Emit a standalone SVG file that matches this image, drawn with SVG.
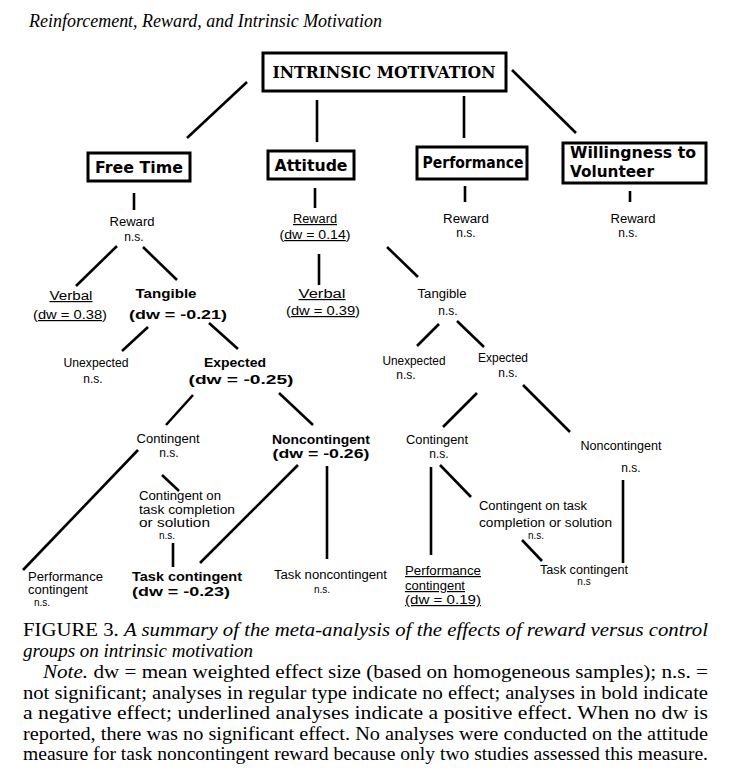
<svg xmlns="http://www.w3.org/2000/svg" width="730" height="781" viewBox="0 0 730 781">
<style>
  .box { fill: #fff; stroke: #000; stroke-width: 3; }
  .bt { font-family: "DejaVu Sans", sans-serif; font-weight: bold; font-size: 15px; fill: #000; }
  .bts { font-family: "DejaVu Serif", serif; font-weight: bold; font-size: 17px; fill: #000; }
  .l { font-family: "Liberation Sans", Arial, sans-serif; font-size: 12px; fill: #000; }
  .b { font-family: "Liberation Sans", Arial, sans-serif; font-size: 13px; font-weight: bold; fill: #000; }
  .s { font-family: "Liberation Sans", Arial, sans-serif; font-size: 10px; fill: #000; }
  .m { text-anchor: middle; }
  .u { text-decoration: underline; }
  .cap { font-family: "Liberation Serif", "Times New Roman", serif; font-size: 19px; fill: #000; }
  .it { font-style: italic; }
  #connectors line { stroke: #000; stroke-width: 2.6; stroke-linecap: butt; }
</style>
<rect width="730" height="781" fill="#fff"/>

<text class="cap it" x="29" y="27" font-size="16.5" textLength="353" lengthAdjust="spacingAndGlyphs">Reinforcement, Reward, and Intrinsic Motivation</text>

<g id="connectors">
  <line x1="247" y1="82" x2="187" y2="138"/>
  <line x1="317" y1="100" x2="317" y2="142"/>
  <line x1="464" y1="96" x2="464" y2="138"/>
  <line x1="512" y1="70" x2="576" y2="133"/>
  <line x1="134" y1="193" x2="134" y2="210"/>
  <line x1="315" y1="188" x2="315" y2="208"/>
  <line x1="465" y1="186" x2="465" y2="202"/>
  <line x1="630" y1="191" x2="630" y2="202"/>
  <line x1="117" y1="246" x2="76" y2="286"/>
  <line x1="143" y1="247" x2="177" y2="280"/>
  <line x1="319" y1="254" x2="319" y2="285"/>
  <line x1="387" y1="247" x2="418" y2="277"/>
  <line x1="148" y1="327" x2="122" y2="351"/>
  <line x1="209" y1="323" x2="238" y2="349"/>
  <line x1="439" y1="324" x2="417" y2="346"/>
  <line x1="457" y1="321" x2="484" y2="347"/>
  <line x1="193" y1="395" x2="166" y2="425"/>
  <line x1="279" y1="393" x2="313" y2="425"/>
  <line x1="477" y1="393" x2="443" y2="427"/>
  <line x1="523" y1="385" x2="570" y2="432"/>
  <line x1="138" y1="450" x2="23" y2="570"/>
  <line x1="162" y1="475" x2="179" y2="491"/>
  <line x1="173" y1="543" x2="173" y2="567"/>
  <line x1="298" y1="465" x2="200" y2="563"/>
  <line x1="327" y1="466" x2="327" y2="559"/>
  <line x1="431" y1="467" x2="431" y2="555"/>
  <line x1="440" y1="465" x2="471" y2="497"/>
  <line x1="522" y1="540" x2="542" y2="561"/>
  <line x1="623" y1="480" x2="623" y2="563"/>
</g>

<g id="intrinsic-motivation">
  <rect class="box" x="263" y="53" width="243" height="38"/>
  <text class="bts m" x="384" y="78" textLength="223" lengthAdjust="spacingAndGlyphs">INTRINSIC MOTIVATION</text>
</g>

<g id="free-time">
  <rect class="box" x="88" y="153" width="102" height="28"/>
  <text class="bt m" x="139" y="173" textLength="88" lengthAdjust="spacingAndGlyphs">Free Time</text>
</g>
<g id="attitude">
  <rect class="box" x="268" y="151" width="86" height="28"/>
  <text class="bt m" x="311" y="171" textLength="73" lengthAdjust="spacingAndGlyphs">Attitude</text>
</g>
<g id="performance">
  <rect class="box" x="417" y="147" width="110" height="32"/>
  <text class="bt m" x="473" y="168" textLength="101" lengthAdjust="spacingAndGlyphs">Performance</text>
</g>
<g id="willingness">
  <rect class="box" x="563" y="143" width="143" height="40"/>
  <text class="bt" x="570" y="158" textLength="126" lengthAdjust="spacingAndGlyphs">Willingness to</text>
  <text class="bt" x="570" y="177" textLength="84" lengthAdjust="spacingAndGlyphs">Volunteer</text>
</g>

<g id="ft-reward">
  <text class="l m" x="132" y="226" textLength="45" lengthAdjust="spacingAndGlyphs">Reward</text>
  <text class="l m" x="134" y="241">n.s.</text>
</g>
<g id="ft-verbal">
  <text class="l m u" x="71" y="300" textLength="43" lengthAdjust="spacingAndGlyphs">Verbal</text>
  <text class="l m" x="70" y="319" textLength="74" lengthAdjust="spacingAndGlyphs">(<tspan class="u">dw = 0.38</tspan>)</text>
</g>
<g id="ft-tangible">
  <text class="b m" x="166" y="298" textLength="61" lengthAdjust="spacingAndGlyphs">Tangible</text>
  <text class="b m" x="178" y="319" textLength="98" lengthAdjust="spacingAndGlyphs">(dw = -0.21)</text>
</g>
<g id="ft-unexpected">
  <text class="l m" x="96" y="367" textLength="65" lengthAdjust="spacingAndGlyphs">Unexpected</text>
  <text class="l m" x="93" y="383">n.s.</text>
</g>
<g id="ft-expected">
  <text class="b m" x="235" y="367" textLength="62" lengthAdjust="spacingAndGlyphs">Expected</text>
  <text class="b m" x="241" y="384" textLength="105" lengthAdjust="spacingAndGlyphs">(dw = -0.25)</text>
</g>
<g id="ft-contingent">
  <text class="l m" x="168" y="443" textLength="63" lengthAdjust="spacingAndGlyphs">Contingent</text>
  <text class="l m" x="169" y="457">n.s.</text>
</g>
<g id="ft-noncontingent">
  <text class="b m" x="321" y="444" textLength="98" lengthAdjust="spacingAndGlyphs">Noncontingent</text>
  <text class="b m" x="321" y="458" textLength="97" lengthAdjust="spacingAndGlyphs">(dw = -0.26)</text>
</g>
<g id="ft-contingent-task">
  <text class="l" x="139" y="500" textLength="82" lengthAdjust="spacingAndGlyphs">Contingent on</text>
  <text class="l" x="139" y="514" textLength="96" lengthAdjust="spacingAndGlyphs">task completion</text>
  <text class="l" x="139" y="527" textLength="71" lengthAdjust="spacingAndGlyphs">or solution</text>
  <text class="s m" x="167" y="539">n.s.</text>
</g>
<g id="ft-performance-contingent">
  <text class="l" x="28" y="581" textLength="75" lengthAdjust="spacingAndGlyphs">Performance</text>
  <text class="l" x="28" y="594" textLength="60" lengthAdjust="spacingAndGlyphs">contingent</text>
  <text class="s m" x="42" y="606">n.s.</text>
</g>
<g id="ft-task-contingent">
  <text class="b" x="132" y="581" textLength="110" lengthAdjust="spacingAndGlyphs">Task contingent</text>
  <text class="b" x="132" y="596" textLength="98" lengthAdjust="spacingAndGlyphs">(dw = -0.23)</text>
</g>
<g id="ft-task-noncontingent">
  <text class="l" x="274" y="579" textLength="113" lengthAdjust="spacingAndGlyphs">Task noncontingent</text>
  <text class="s m" x="322" y="593">n.s.</text>
</g>

<g id="at-reward">
  <text class="l m u" x="315" y="223" textLength="44" lengthAdjust="spacingAndGlyphs">Reward</text>
  <text class="l m" x="315" y="239" textLength="71" lengthAdjust="spacingAndGlyphs">(<tspan class="u">dw = 0.14</tspan>)</text>
</g>
<g id="at-verbal">
  <text class="l m u" x="322" y="298" textLength="47" lengthAdjust="spacingAndGlyphs">Verbal</text>
  <text class="l m" x="323" y="315" textLength="74" lengthAdjust="spacingAndGlyphs">(<tspan class="u">dw = 0.39</tspan>)</text>
</g>

<g id="pf-reward">
  <text class="l m" x="466" y="223" textLength="46" lengthAdjust="spacingAndGlyphs">Reward</text>
  <text class="l m" x="466" y="237">n.s.</text>
</g>
<g id="wv-reward">
  <text class="l m" x="633" y="223" textLength="45" lengthAdjust="spacingAndGlyphs">Reward</text>
  <text class="l m" x="628" y="237">n.s.</text>
</g>

<g id="at-tangible">
  <text class="l m" x="442" y="298" textLength="49" lengthAdjust="spacingAndGlyphs">Tangible</text>
  <text class="l m" x="448" y="315">n.s.</text>
</g>
<g id="at-unexpected">
  <text class="l m" x="414" y="365" textLength="63" lengthAdjust="spacingAndGlyphs">Unexpected</text>
  <text class="l m" x="406" y="379">n.s.</text>
</g>
<g id="at-expected">
  <text class="l m" x="503" y="362" textLength="50" lengthAdjust="spacingAndGlyphs">Expected</text>
  <text class="l m" x="508" y="377">n.s.</text>
</g>
<g id="at-contingent">
  <text class="l m" x="437" y="444" textLength="62" lengthAdjust="spacingAndGlyphs">Contingent</text>
  <text class="l m" x="439" y="458">n.s.</text>
</g>
<g id="at-noncontingent">
  <text class="l m" x="621" y="450" textLength="81" lengthAdjust="spacingAndGlyphs">Noncontingent</text>
  <text class="l m" x="631" y="472">n.s.</text>
</g>
<g id="at-contingent-task">
  <text class="l" x="479" y="510" textLength="108" lengthAdjust="spacingAndGlyphs">Contingent on task</text>
  <text class="l" x="479" y="527" textLength="133" lengthAdjust="spacingAndGlyphs">completion or solution</text>
  <text class="s m" x="536" y="539">n.s.</text>
</g>
<g id="at-performance-contingent">
  <text class="l u" x="405" y="575" textLength="76" lengthAdjust="spacingAndGlyphs">Performance</text>
  <text class="l u" x="405" y="590" textLength="60" lengthAdjust="spacingAndGlyphs">contingent</text>
  <text class="l u" x="405" y="604" textLength="76" lengthAdjust="spacingAndGlyphs">(dw = 0.19)</text>
</g>
<g id="at-task-contingent">
  <text class="l" x="540" y="574" textLength="88" lengthAdjust="spacingAndGlyphs">Task contingent</text>
  <text class="s m" x="584" y="585">n.s</text>
</g>

<g id="caption">
  <text class="cap" x="23" y="636" textLength="685" lengthAdjust="spacingAndGlyphs">FIGURE 3. <tspan class="it">A summary of the meta-analysis of the effects of reward versus control</tspan></text>
  <text class="cap it" x="23" y="657">groups on intrinsic motivation</text>
  <text class="cap" x="43" y="678" textLength="665" lengthAdjust="spacingAndGlyphs"><tspan class="it">Note.</tspan> dw = mean weighted effect size (based on homogeneous samples); n.s. =</text>
  <text class="cap" x="23" y="699" textLength="685" lengthAdjust="spacingAndGlyphs">not significant; analyses in regular type indicate no effect; analyses in bold indicate</text>
  <text class="cap" x="23" y="719" textLength="685" lengthAdjust="spacingAndGlyphs">a negative effect; underlined analyses indicate a positive effect. When no dw is</text>
  <text class="cap" x="23" y="740" textLength="685" lengthAdjust="spacingAndGlyphs">reported, there was no significant effect. No analyses were conducted on the attitude</text>
  <text class="cap" x="23" y="760" textLength="685" lengthAdjust="spacingAndGlyphs">measure for task noncontingent reward because only two studies assessed this measure.</text>
</g>
</svg>
